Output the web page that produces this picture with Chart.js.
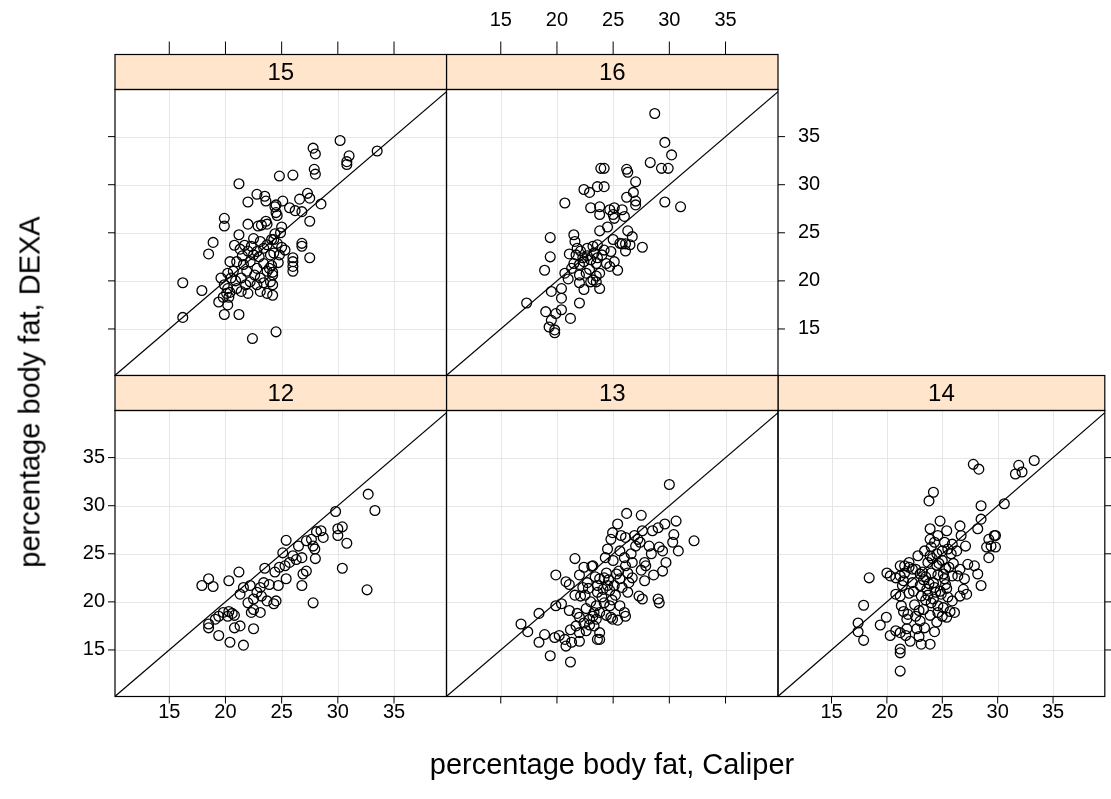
<!DOCTYPE html>
<html><head><meta charset="utf-8">
<script src="https://cdn.jsdelivr.net/npm/chart.js@4/dist/chart.umd.min.js"></script>
<style>
html,body{margin:0;padding:0;background:#fff;}
#wrap{position:relative;width:1111px;height:799px;overflow:hidden;background:#fff;}
canvas{position:absolute;left:0;top:0;}
.t{position:absolute;font-family:"Liberation Sans",Arial,Helvetica,sans-serif;color:#000;white-space:nowrap;font-size:29px;line-height:1;}
</style></head><body>
<div id="wrap">
<div class="t" style="left:0;width:1224px;top:750px;text-align:center;">percentage body fat, Caliper</div>
<div class="t" style="left:30px;top:392px;transform:translate(-50%,-50%) rotate(-90deg);">percentage body fat, DEXA</div>
</div>
<script>
// ---- data (percentage body fat: Caliper = x, DEXA = y), by age panel ----
const tickVals = [15, 20, 25, 30, 35];
const panelLabels = ['12', '13', '14', '15', '16'];

const cal12 = [32.7,33.3,29.8,30.0,30.4,30.0,30.8,30.4,32.6,27.8,28.1,28.5,28.7,27.2,27.65,27.8,27.95,28.0,25.4,26.5,26.0,26.3,26.8,25.1,25.3,25.7,26.9,27.2,26.8,23.5,24.4,24.8,25.4,24.7,23.4,23.9,23.1,21.2,20.3,18.5,17.9,18.9,21.6,22.2,21.3,22.8,23.2,22.5,22.0,22.5,23.1,22.3,23.7,24.3,24.5,19.8,20.3,20.6,20.2,19.4,19.1,20.8,18.5,18.5,20.8,21.3,22.5,19.4,20.4,21.6];
const dexa12 = [31.2,29.5,29.4,27.6,27.8,26.9,26.1,23.5,21.25,19.9,27.3,27.4,26.7,26.35,26.5,25.8,25.5,24.5,26.4,25.8,24.8,24.4,24.6,25.1,23.75,24.1,22.9,23.2,21.7,23.5,23.1,23.6,22.4,21.7,22.0,21.8,21.5,23.1,22.2,22.4,21.7,21.6,21.5,21.7,20.8,21.0,20.6,20.3,19.9,19.2,18.9,18.9,20.1,19.8,20.1,18.9,19.0,18.8,18.5,18.5,18.2,18.6,17.7,17.3,17.3,17.5,17.2,16.5,15.8,15.5];

const cal13 = [21.6,22.4,23.1,19.9,20.8,21.1,22.0,23.6,21.6,22.1,22.5,19.9,20.4,21.1,18.4,16.8,17.4,22.0,22.4,22.9,23.3,21.7,22.0,22.6,18.9,19.8,20.2,20.7,20.8,18.4,21.3,22.0,19.4,21.2,23.6,30.0,32.2,26.2,27.5,25.4,24.95,24.8,24.5,25.7,26.1,26.9,27.2,27.4,27.0,27.6,28.5,29.0,29.6,30.6,30.4,30.3,30.8,28.2,29.1,29.4,28.4,27.8,27.9,29.7,29.4,26.0,26.1,26.7,27.8,27.3,27.6,29.0,29.1,23.2,23.8,24.2,24.5,25.1,25.6,23.6,24.1,24.7,25.2,25.8,26.4,26.7,26.3,24.2,24.7,25.6,26.0,23.5,23.2,23.8,24.8,24.95,26.1,23.3,23.8,23.8,24.0,24.9,25.3,24.4,22.8,22.7,23.4,24.6,25.5,26.3,23.0,22.6,24.4,25.4,23.5,21.8,22.3,25.0,24.3,25.6,26.6,27.5,28.6,21.2,22.9];
const dexa13 = [24.5,23.6,23.7,22.8,22.1,21.8,22.8,21.7,20.7,20.6,20.7,19.6,19.8,19.1,18.8,17.7,16.9,18.4,17.8,18.2,18.9,17.5,16.8,17.0,16.6,16.3,16.5,16.1,15.4,15.8,15.8,15.9,14.4,13.75,16.1,32.2,26.35,29.2,29.0,28.1,27.2,26.5,25.5,26.9,26.7,26.9,26.5,26.2,25.8,27.4,27.4,27.7,28.1,28.4,27.0,26.2,25.3,25.8,25.7,25.3,25.0,24.1,23.75,24.1,23.2,24.6,23.75,24.1,22.2,20.6,20.3,20.3,19.9,23.75,22.4,22.5,21.7,21.7,22.4,21.0,21.3,21.2,20.7,21.5,22.0,22.5,21.0,19.9,19.6,19.6,18.9,19.6,18.5,18.9,18.4,18.2,18.5,17.5,16.8,16.1,20.5,20.2,22.9,23.0,21.4,22.0,22.6,22.3,23.2,23.0,20.0,19.3,18.6,18.1,18.2,18.8,21.5,24.3,24.6,25.3,25.0,23.3,22.8,17.1,17.6];

const cal14 = [18.4,17.9,17.4,17.4,17.9,19.4,19.95,20.0,20.3,20.8,21.2,21.6,22.0,21.2,21.5,21.4,20.8,21.2,22.0,21.3,21.5,21.8,21.9,20.8,21.2,20.3,21.8,21.2,21.2,21.2,27.8,28.3,24.2,23.8,28.5,28.5,28.2,24.8,26.6,26.7,27.1,23.9,25.4,29.2,29.7,29.0,29.4,29.2,23.9,24.3,24.0,25.2,25.5,24.5,25.0,25.8,23.9,27.3,27.9,28.2,28.5,26.9,27.2,26.6,26.1,23.0,23.6,24.2,21.6,22.0,22.3,23.1,24.0,24.6,25.0,25.4,22.6,23.0,21.7,22.1,23.1,23.9,26.4,25.9,25.2,22.6,23.2,22.3,33.3,31.9,31.6,32.2,30.6,29.8,29.8,24.5,25.0,25.6,24.0,23.5,24.8,25.5,23.5,24.3,22.5,23.3,24.6,22.8,23.4,26.0,25.3,23.3,23.8,24.4,24.9,25.4,25.9,23.7,24.2,24.6,23.9,24.5,23.4,25.1,25.7,22.9,24.1,24.7,25.3,23.7,25.9,26.3,24.6,25.1,23.0,22.4,26.6,27.0,24.3,22.7,22.9];
const dexa14 = [22.5,19.65,17.8,16.9,16.0,17.6,18.4,23.0,22.7,22.5,23.75,23.75,23.6,22.7,22.2,21.7,20.8,20.6,20.9,19.6,19.0,18.2,18.7,17.0,16.8,16.5,17.2,15.1,14.7,12.8,34.3,33.8,31.4,30.5,30.0,28.6,27.6,28.4,27.9,26.9,25.8,27.6,27.4,26.5,26.9,25.7,25.8,24.6,26.5,26.2,25.7,26.2,25.5,25.0,25.3,25.0,24.8,23.9,23.75,22.9,21.7,21.3,20.8,20.6,18.9,21.7,21.3,22.0,23.0,24.1,23.4,20.6,19.9,19.6,18.5,18.4,18.5,18.0,16.5,15.9,15.6,15.6,22.7,22.7,22.4,23.4,23.1,22.0,34.7,34.2,33.3,33.5,30.2,26.9,25.7,23.8,24.3,23.6,23.0,22.6,21.1,20.5,20.2,21.5,19.7,19.2,22.8,24.8,25.3,24.0,21.8,22.3,21.9,21.0,20.8,21.4,20.1,20.7,20.3,18.9,18.6,17.9,17.3,19.4,19.0,19.1,24.5,24.0,23.5,24.1,26.0,25.3,26.9,22.9,22.9,21.1,23.4,22.4,16.9,17.2,16.4];

const cal15 = [27.8,28.0,30.2,31.0,30.8,30.8,33.5,24.8,26.0,27.9,28.0,27.3,27.5,26.6,28.5,25.1,25.7,26.2,26.8,27.5,24.5,24.6,25.0,24.9,26.8,26.8,26.0,26.0,26.0,26.0,27.5,24.8,25.0,24.6,24.3,24.4,24.2,24.2,24.2,24.5,24.3,25.3,24.7,24.1,24.2,21.2,22.0,22.8,23.5,23.6,19.9,19.9,18.9,18.5,21.2,22.0,16.2,16.2,17.9,19.9,21.2,22.4,24.4,24.5,22.9,23.2,23.6,23.7,20.8,21.3,21.7,22.0,22.5,23.1,23.7,24.1,22.8,23.4,24.0,20.4,21.0,21.6,22.2,22.8,23.4,20.2,20.7,20.5,21.9,21.4,22.2,23.1,23.7,24.0,19.6,19.9,20.2,20.1,20.4,19.8,20.3,19.4,21.0,21.4,22.0,23.1,23.7,22.8,23.4,20.2,22.5,23.0,21.5,20.9,22.6,21.8,23.9,22.3];
const dexa15 = [33.8,33.2,34.6,33.0,32.4,32.1,33.5,30.9,31.0,31.6,31.1,29.1,28.6,28.5,28.0,28.3,27.6,27.3,27.2,26.2,27.9,26.8,25.6,25.0,23.9,23.6,22.4,22.0,21.5,21.0,22.4,22.7,23.5,23.9,22.9,24.9,20.6,19.6,18.5,14.7,24.3,23.2,21.9,21.6,20.9,30.1,28.2,29.0,28.8,28.3,26.5,25.7,24.0,22.8,24.8,25.9,19.8,16.2,19.0,16.5,16.5,14.0,27.7,27.1,25.7,25.8,26.2,25.9,23.7,23.3,23.7,23.1,24.4,24.1,23.75,24.3,23.05,23.4,22.7,22.0,22.0,21.7,22.0,21.3,21.8,20.8,21.0,20.3,21.0,20.3,19.9,20.3,21.0,19.9,20.3,19.6,19.2,18.7,18.8,18.3,18.3,17.8,19.2,18.9,18.7,18.9,18.7,19.6,19.8,17.5,22.7,22.5,22.6,20.0,20.6,19.6,21.3,23.6];

const cal16 = [23.9,22.4,22.9,23.6,20.7,23.0,23.8,23.8,19.4,19.4,18.9,20.7,21.5,21.6,21.1,21.7,22.1,22.7,23.2,21.5,22.0,22.4,23.0,23.5,22.0,22.6,23.2,23.8,22.0,23.0,23.8,19.5,20.4,20.4,17.3,19.0,19.9,20.4,22.0,19.5,21.2,19.3,19.8,19.8,28.7,29.6,30.2,28.3,29.3,29.9,24.2,26.2,26.3,27.0,24.2,26.8,26.2,27.0,27.0,29.6,31.0,24.7,25.1,25.0,25.1,25.8,26.0,26.3,26.7,25.6,25.8,26.1,26.5,27.6,26.1,23.6,24.2,24.8,23.6,24.4,24.7,25.1,25.4,23.8,23.5,23.5,22.3,22.9,21.3,22.7,21.8,23.3,24.0,25.0,24.5,22.4,21.0];
const dexa16 = [31.7,29.5,29.2,29.8,28.1,27.6,27.7,26.9,24.5,22.5,21.1,20.8,24.8,24.1,22.8,22.7,23.1,23.4,23.6,21.8,21.7,22.0,22.2,21.8,20.6,20.8,20.1,20.8,19.8,19.9,25.2,18.9,19.2,18.2,17.7,16.8,16.6,17.0,17.7,15.9,16.1,15.2,14.9,14.6,37.4,34.4,33.1,32.3,31.7,31.7,31.7,31.6,31.3,30.3,29.8,29.2,28.7,28.3,27.9,28.2,27.7,27.4,27.6,26.9,26.5,27.4,26.7,25.2,24.6,23.9,23.85,23.85,23.75,23.5,23.1,23.75,23.2,23.05,22.4,21.8,21.5,22.0,21.1,19.2,20.5,19.9,22.4,21.2,21.3,22.6,23.4,22.9,22.7,24.3,25.6,19.1,20.2];

// ---- layout (pixels) ----
const xLim = [10.17, 39.67], yLim = [10.16, 39.9];
const colLeft = [115, 446.5, 778], colW = 331.5;
const rowTop = [410.5, 89.5], rowH = 286;   // row 0 = bottom, row 1 = top
const stripH = 35, tickLen = 7;
const FONT = '"Liberation Sans", Arial, Helvetica, sans-serif';

const panels = [
  {label: panelLabels[0], x: cal12, y: dexa12, col: 0, row: 0, axes: {bottom: 'lab', left: 'lab'}},
  {label: panelLabels[1], x: cal13, y: dexa13, col: 1, row: 0, axes: {bottom: 'tick'}},
  {label: panelLabels[2], x: cal14, y: dexa14, col: 2, row: 0, axes: {bottom: 'lab', right: 'tick'}},
  {label: panelLabels[3], x: cal15, y: dexa15, col: 0, row: 1, axes: {top: 'tick', left: 'tick'}},
  {label: panelLabels[4], x: cal16, y: dexa16, col: 1, row: 1, axes: {top: 'lab', right: 'lab'}}
];

function seg(ctx, x1, y1, x2, y2) { ctx.beginPath(); ctx.moveTo(x1, y1); ctx.lineTo(x2, y2); ctx.stroke(); }

function latticePlugin(p) {
  return {
    id: 'lattice' + p.label,
    beforeDatasetsDraw(chart) {
      const {ctx, chartArea: a, scales: {x, y}} = chart;
      ctx.save();
      ctx.strokeStyle = '#e6e6e6'; ctx.lineWidth = 1;
      tickVals.forEach(v => {
        const px = Math.round(x.getPixelForValue(v)) + 0.5;
        const py = Math.round(y.getPixelForValue(v)) + 0.5;
        seg(ctx, px, a.top, px, a.bottom);
        seg(ctx, a.left, py, a.right, py);
      });
      ctx.restore();
    },
    afterDraw(chart) {
      const {ctx, chartArea: a, scales: {x, y}} = chart;
      ctx.save();
      ctx.lineWidth = 1.2; ctx.strokeStyle = '#000';
      // strip
      const sTop = a.top - stripH;
      ctx.fillStyle = '#ffe5cc';
      ctx.fillRect(a.left, sTop, a.right - a.left, stripH);
      ctx.strokeRect(a.left, sTop, a.right - a.left, stripH);
      ctx.fillStyle = '#000';
      ctx.font = '24px ' + FONT;
      ctx.textAlign = 'center'; ctx.textBaseline = 'middle';
      ctx.fillText(p.label, (a.left + a.right) / 2, sTop + stripH / 2 + 1);
      // panel border
      ctx.strokeRect(a.left, a.top, a.right - a.left, a.bottom - a.top);
      // axes
      ctx.lineWidth = 1;
      ctx.font = '20px ' + FONT;
      const ax = p.axes;
      tickVals.forEach(v => {
        const px = x.getPixelForValue(v), py = y.getPixelForValue(v);
        if (ax.bottom) {
          seg(ctx, px, a.bottom, px, a.bottom + tickLen);
          if (ax.bottom === 'lab') { ctx.textAlign = 'center'; ctx.textBaseline = 'middle'; ctx.fillText(String(v), px, a.bottom + tickLen + 9); }
        }
        if (ax.top) {
          seg(ctx, px, sTop, px, sTop - tickLen - 6);
          if (ax.top === 'lab') { ctx.textAlign = 'center'; ctx.textBaseline = 'middle'; ctx.fillText(String(v), px, 20); }
        }
        if (ax.left) {
          seg(ctx, a.left, py, a.left - tickLen, py);
          if (ax.left === 'lab') { ctx.textAlign = 'right'; ctx.textBaseline = 'middle'; ctx.fillText(String(v), a.left - tickLen - 3, py); }
        }
        if (ax.right) {
          seg(ctx, a.right, py, a.right + tickLen, py);
          if (ax.right === 'lab') { ctx.textAlign = 'left'; ctx.textBaseline = 'middle'; ctx.fillText(String(v), a.right + tickLen + 13, py); }
        }
      });
      ctx.restore();
    }
  };
}

const wrap = document.getElementById('wrap');
panels.forEach(p => {
  const cv = document.createElement('canvas');
  cv.width = 1111; cv.height = 799;
  cv.style.width = '1111px'; cv.style.height = '799px';
  wrap.insertBefore(cv, wrap.firstChild);
  const L = colLeft[p.col], T = rowTop[p.row];
  new Chart(cv, {
    type: 'scatter',
    data: {
      datasets: [
        {
          data: p.x.map((v, i) => ({x: v, y: p.y[i]})),
          pointStyle: 'circle', pointRadius: 4.9, pointHoverRadius: 4.9,
          borderColor: '#000', backgroundColor: 'rgba(0,0,0,0)', pointBorderWidth: 1.3, borderWidth: 1.3, clip: 0
        },
        {
          type: 'line', data: [{x: 0, y: 0}, {x: 50, y: 50}],
          borderColor: '#000', borderWidth: 1.2, pointRadius: 0, fill: false, clip: 0, tension: 0
        }
      ]
    },
    options: {
      responsive: false, animation: false, devicePixelRatio: 1, events: [],
      layout: {padding: {left: L, top: T, right: 1111 - L - colW, bottom: 799 - T - rowH}},
      plugins: {legend: {display: false}, tooltip: {enabled: false}},
      scales: {
        x: {type: 'linear', min: xLim[0], max: xLim[1], display: false},
        y: {type: 'linear', min: yLim[0], max: yLim[1], display: false}
      }
    },
    plugins: [latticePlugin(p)]
  });
});
</script>
</body></html>
